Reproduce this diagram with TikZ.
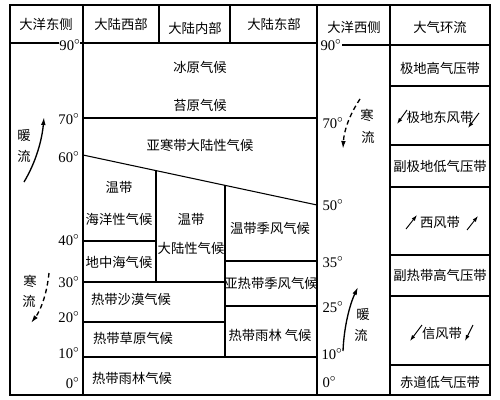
\documentclass[tikz,border=0pt]{standalone}
\usepackage{fontspec}
\setmainfont{Liberation Serif}
\newfontfamily\cjk{Noto Sans CJK SC}
\usetikzlibrary{arrows.meta}
\begin{document}
\begin{tikzpicture}[x=0.75pt,y=-0.75pt,line width=0.8pt,
  lab/.style={font=\cjk\fontsize{10}{12}\selectfont,inner sep=0pt},
  deg/.style={font=\fontsize{11}{12}\selectfont,inner sep=0pt},
  degl/.style={deg,anchor=east},
  degr/.style={deg,anchor=west},
  wind/.style={line width=0.7pt,-{Latex[length=4.5pt,width=3pt]}},
  warm/.style={line width=1pt,-{Latex[length=6pt,width=3.5pt]}},
  cold/.style={line width=1pt,dash pattern=on 3.5pt off 2.5pt,-{Latex[length=6pt,width=3.5pt]}}]
\useasboundingbox (0,0) rectangle (500,400);
% frame and main lines
\draw[line width=1pt] (10,5) rectangle (490,395);
\draw (83,5) -- (83,395);
\draw (317,5) -- (317,395);
\draw (390,5) -- (390,395);
\draw (159,5) -- (159,43);
\draw (230,5) -- (230,43);
\draw (83,43) -- (317,43);
\draw (390,45) -- (490,45);
% latitude labels left
\node[degl] (L90) at (81,45) {90$^{\circ}$};
\node[degl] (L70) at (80,119) {70$^{\circ}$};
\node[degl] (L60) at (80,157) {60$^{\circ}$};
\node[degl] (L40) at (80,240) {40$^{\circ}$};
\node[degl] (L30) at (80,282) {30$^{\circ}$};
\node[degl] (L20) at (80,317) {20$^{\circ}$};
\node[degl] (L10) at (80,353) {10$^{\circ}$};
\node[degl] (L0) at (80,383) {0$^{\circ}$};
\draw (10,43) -- (L90.west |- 0,43);
\draw (80,43) -- (83,43);
% latitude labels right
\node[degr] (R90) at (320,45) {90$^{\circ}$};
\node[degr] (R70) at (322,123) {70$^{\circ}$};
\node[degr] (R50) at (322,205) {50$^{\circ}$};
\node[degr] (R35) at (322,262) {35$^{\circ}$};
\node[degr] (R25) at (322,307) {25$^{\circ}$};
\node[degr] (R10) at (321,354) {10$^{\circ}$};
\node[degr] (R0) at (322,382) {0$^{\circ}$};
\draw (R90.east |- 0,45) -- (390,45);
% climate zone lines
\draw (83,118) -- (317,118);
\draw (83,155) -- (317,205);
\draw (156,171) -- (156,282);
\draw (225,185) -- (225,357);
\draw (83,241) -- (156,241);
\draw (83,282) -- (225,282);
\draw (83,322) -- (225,322);
\draw (83,357) -- (317,357);
\draw (225,261) -- (317,261);
\draw (225,306) -- (317,306);
% right column lines
\foreach \yy in {86,145,187,255,296,365} \draw (390,\yy) -- (490,\yy);
% headers
\node[lab] (h1) at (46,24) {大洋东侧};
\node[lab] (h2) at (121,24) {大陆西部};
\node[lab] (h3) at (195,28) {大陆内部};
\node[lab] (h4) at (274,24) {大陆东部};
\node[lab] (h5) at (354,27) {大洋西侧};
\node[lab] (h6) at (440,27) {大气环流};
% climates
\node[lab] (c1) at (200,67) {冰原气候};
\node[lab] (c2) at (200,105) {苔原气候};
\node[lab] (c3) at (200,145) {亚寒带大陆性气候};
\node[lab] (c4a) at (119,187) {温带};
\node[lab] (c4b) at (119,219) {海洋性气候};
\node[lab] (c5) at (119,262) {地中海气候};
\node[lab] (c6a) at (191,219) {温带};
\node[lab] (c6b) at (191,248) {大陆性气候};
\node[lab] (c7) at (270,228) {温带季风气候};
\node[lab] (c8) at (271,283) {亚热带季风气候};
\node[lab] (c9) at (270,335) {热带雨林 气候};
\node[lab] (c10) at (131,299) {热带沙漠气候};
\node[lab] (c11) at (133,338) {热带草原气候};
\node[lab] (c12) at (132,378) {热带雨林气候};
% pressure and wind belts
\node[lab] (p1) at (440,68) {极地高气压带};
\node[lab] (p2) at (440,117) {极地东风带};
\node[lab] (p3) at (440,166) {副极地低气压带};
\node[lab] (p4) at (440,222) {西风带};
\node[lab] (p5) at (440,275) {副热带高气压带};
\node[lab] (p6) at (442,333) {信风带};
\node[lab] (p7) at (440,382) {赤道低气压带};
% wind arrows
\coordinate (w1s) at (407,110); \coordinate (w1e) at (397,124);
\coordinate (w2s) at (479,113); \coordinate (w2e) at (468,128);
\coordinate (w3s) at (406,229); \coordinate (w3e) at (417,215);
\coordinate (w4s) at (467,230); \coordinate (w4e) at (478,216);
\coordinate (w5s) at (422,325); \coordinate (w5e) at (410,341);
\coordinate (w6s) at (473,325); \coordinate (w6e) at (465,341);
\draw[wind] (w1s) -- (w1e);
\draw[wind] (w2s) -- (w2e);
\draw[wind] (w3s) -- (w3e);
\draw[wind] (w4s) -- (w4e);
\draw[wind] (w5s) -- (w5e);
\draw[wind] (w6s) -- (w6e);
% ocean currents
\node[lab] (a1) at (24,135) {暖};
\node[lab] (a2) at (24,156) {流};
\coordinate (cs1) at (24,182); \coordinate (ce1) at (44,117);
\draw[warm] (cs1) .. controls (36,162) and (42,140) .. (ce1);
\node[lab] (b1) at (30,281) {寒};
\node[lab] (b2) at (29,301) {流};
\coordinate (cs2) at (49,273); \coordinate (ce2) at (31,323);
\draw[cold] (cs2) .. controls (47,293) and (41,310) .. (ce2);
\node[lab] (b3) at (367,115) {寒};
\node[lab] (b4) at (368,137) {流};
\coordinate (cs3) at (360,99); \coordinate (ce3) at (343,149);
\draw[cold] (cs3) .. controls (350,114) and (344,130) .. (ce3);
\node[lab] (a3) at (363,314) {暖};
\node[lab] (a4) at (361,335) {流};
\coordinate (cs4) at (343,351); \coordinate (ce4) at (358,287);
\draw[warm] (cs4) .. controls (344,326) and (350,304) .. (ce4);
\end{tikzpicture}
\end{document}
